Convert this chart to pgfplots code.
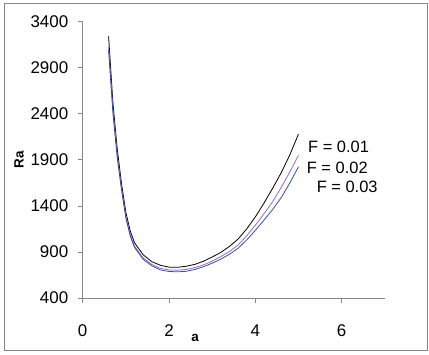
\documentclass[border=0pt]{standalone}
\usepackage{pgfplots}
\pgfplotsset{compat=1.18}
\usepackage{fontspec}
\setmainfont{Liberation Sans}
\definecolor{fpurple}{HTML}{9966CC}
\definecolor{fblue}{HTML}{34508F}
\definecolor{axgray}{HTML}{868686}
\newcommand{\tk}{\fontsize{17}{20}\selectfont}
\newcommand{\lb}{\fontsize{13.5}{16}\selectfont\bfseries}
\begin{document}
\begin{tikzpicture}[font=\fontsize{16.5}{20}\selectfont]
\useasboundingbox (0,0) rectangle (429bp,355bp);
\draw[axgray, line width=0.8pt] (4bp,5bp) rectangle (427bp,352bp);
\begin{axis}[
  at={(82.7bp,57bp)}, anchor=south west,
  width=302.1bp, height=276.3bp, scale only axis,
  xmin=0, xmax=7, ymin=400, ymax=3400,
  xtick={0,2,4,6}, ytick={400,900,1400,1900,2400,2900,3400},
  xticklabels={{\tk 0},{\tk 2},{\tk 4},{\tk 6}},
  yticklabels={{\tk 400},{\tk 900},{\tk 1400},{\tk 1900},{\tk 2400},{\tk 2900},{\tk 3400}},
  axis x line*=bottom, axis y line*=left,
  axis line style={axgray, line width=0.8pt, -},
  tick style={axgray, line width=0.8pt},
  tick align=outside, major tick length=5bp,
  every tick label/.append style={text=black},
  xticklabel style={yshift=-18bp},
  yticklabel style={xshift=-6bp},
  xlabel={\lb a}, ylabel={\lb Ra},
  xlabel style={at={(axis description cs:0.372,-0.145)}, anchor=center},
  ylabel style={at={(axis description cs:-0.211,0.5)}, anchor=center},
  clip=false,
]
\addplot[black, line width=0.8pt] coordinates {
(0.6,3240) (0.7,2520) (0.8,2020) (0.9,1640) (1.0,1330) (1.1,1130) (1.2,1000)
(1.4,870) (1.6,795) (1.8,755) (2.0,735) (2.2,733) (2.4,745) (2.6,765)
(2.8,800) (3.0,845) (3.2,895) (3.4,960) (3.6,1040) (3.8,1150) (4.0,1280)
(4.2,1430) (4.4,1590) (4.6,1760) (4.8,1955) (5.0,2180)};
\addplot[fpurple, line width=0.8pt] coordinates {
(0.6,3130) (0.7,2440) (0.8,1950) (0.9,1590) (1.0,1290) (1.1,1090) (1.2,965)
(1.4,835) (1.6,765) (1.8,722) (2.0,705) (2.2,702) (2.4,710) (2.6,730)
(2.8,760) (3.0,800) (3.2,850) (3.4,905) (3.6,975) (3.8,1075) (4.0,1190)
(4.2,1315) (4.4,1445) (4.6,1600) (4.8,1770) (5.0,1950)};
\addplot[fblue, line width=0.8pt] coordinates {
(0.6,3090) (0.7,2410) (0.8,1925) (0.9,1570) (1.0,1270) (1.1,1075) (1.2,950)
(1.4,820) (1.6,750) (1.8,705) (2.0,688) (2.2,684) (2.4,690) (2.6,710)
(2.8,740) (3.0,778) (3.2,822) (3.4,875) (3.6,940) (3.8,1030) (4.0,1135)
(4.2,1245) (4.4,1360) (4.6,1490) (4.8,1650) (5.0,1825)};
\node[anchor=west, inner sep=0pt] at (axis cs:5.22,2043) {F = 0.01};
\node[anchor=west, inner sep=0pt] at (axis cs:5.19,1815) {F = 0.02};
\node[anchor=west, inner sep=0pt] at (axis cs:5.42,1609) {F = 0.03};
\end{axis}
\end{tikzpicture}
\end{document}
